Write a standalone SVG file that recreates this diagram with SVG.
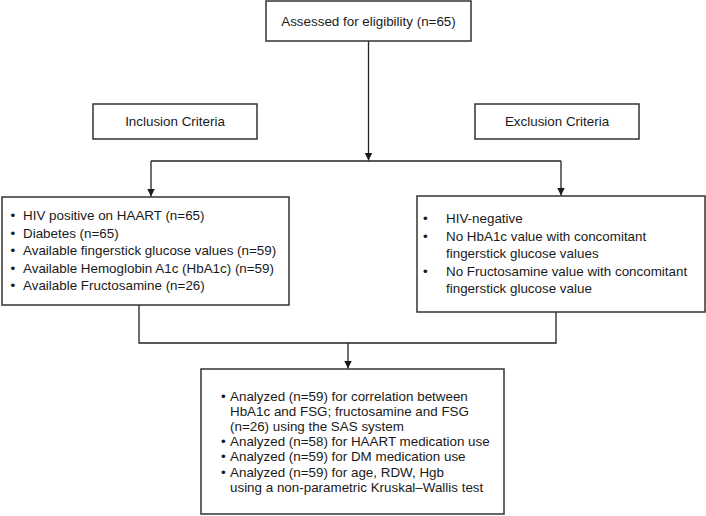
<svg xmlns="http://www.w3.org/2000/svg" width="706" height="516" viewBox="0 0 706 516">
<defs>
<marker id="arr" viewBox="0 0 8 10" refX="8" refY="5" markerWidth="8" markerHeight="10" markerUnits="userSpaceOnUse" orient="auto">
<path d="M0,1 L8,5 L0,9 Z" fill="#1a1a1a"/>
</marker>
<style>
.box{fill:#fff;stroke:#333;stroke-width:1.5}
.ln{fill:none;stroke:#222;stroke-width:1.3}
text{font-family:"Liberation Sans",Arial,sans-serif;font-size:13.4px;fill:#1a1a1a}
.c{text-anchor:middle}
</style>
</defs>
<g id="connectors">
<path class="ln" d="M368.5,41 V160.5" marker-end="url(#arr)"/>
<path class="ln" d="M151,161 H561"/>
<path class="ln" d="M151,161 V196.5" marker-end="url(#arr)"/>
<path class="ln" d="M561,161 V195.5" marker-end="url(#arr)"/>
<path class="ln" d="M139,305 V343 H556 V312"/>
<path class="ln" d="M348,343 V368.5" marker-end="url(#arr)"/>
</g>
<g id="assessed">
<rect class="box" x="266" y="1" width="205" height="40"/>
<text class="c" x="368.5" y="25.5">Assessed for eligibility (n=65)</text>
</g>
<g id="inclusion-header">
<rect class="box" x="93" y="104" width="164" height="35"/>
<text class="c" x="175" y="126">Inclusion Criteria</text>
</g>
<g id="exclusion-header">
<rect class="box" x="475" y="104" width="164" height="35"/>
<text class="c" x="557" y="126">Exclusion Criteria</text>
</g>
<g id="inclusion-list">
<rect class="box" x="2" y="197" width="287" height="108"/>
<text x="10.5" y="220">•</text><text x="23" y="220">HIV positive on HAART (n=65)</text>
<text x="10.5" y="237.5">•</text><text x="23" y="237.5">Diabetes (n=65)</text>
<text x="10.5" y="255">•</text><text x="23" y="255">Available fingerstick glucose values (n=59)</text>
<text x="10.5" y="272.5">•</text><text x="23" y="272.5">Available Hemoglobin A1c (HbA1c) (n=59)</text>
<text x="10.5" y="290">•</text><text x="23" y="290">Available Fructosamine (n=26)</text>
</g>
<g id="exclusion-list">
<rect class="box" x="417" y="196" width="288" height="116"/>
<text x="423" y="223">•</text><text x="446" y="223">HIV-negative</text>
<text x="423" y="240.5">•</text><text x="446" y="240.5">No HbA1c value with concomitant</text>
<text x="446" y="258">fingerstick glucose values</text>
<text x="423" y="275.5">•</text><text x="446" y="275.5">No Fructosamine value with concomitant</text>
<text x="446" y="293">fingerstick glucose value</text>
</g>
<g id="analysis">
<rect class="box" x="201" y="369" width="303" height="145"/>
<text x="221" y="400.5">•</text><text x="230" y="400.5">Analyzed (n=59) for correlation between</text>
<text x="230" y="415.5">HbA1c and FSG; fructosamine and FSG</text>
<text x="230" y="430.5">(n=26) using the SAS system</text>
<text x="221" y="445.5">•</text><text x="230" y="445.5">Analyzed (n=58) for HAART medication use</text>
<text x="221" y="461">•</text><text x="230" y="461">Analyzed (n=59) for DM medication use</text>
<text x="221" y="476.5">•</text><text x="230" y="476.5">Analyzed (n=59) for age, RDW, Hgb</text>
<text x="230" y="491.5">using a non-parametric Kruskal–Wallis test</text>
</g>
</svg>
